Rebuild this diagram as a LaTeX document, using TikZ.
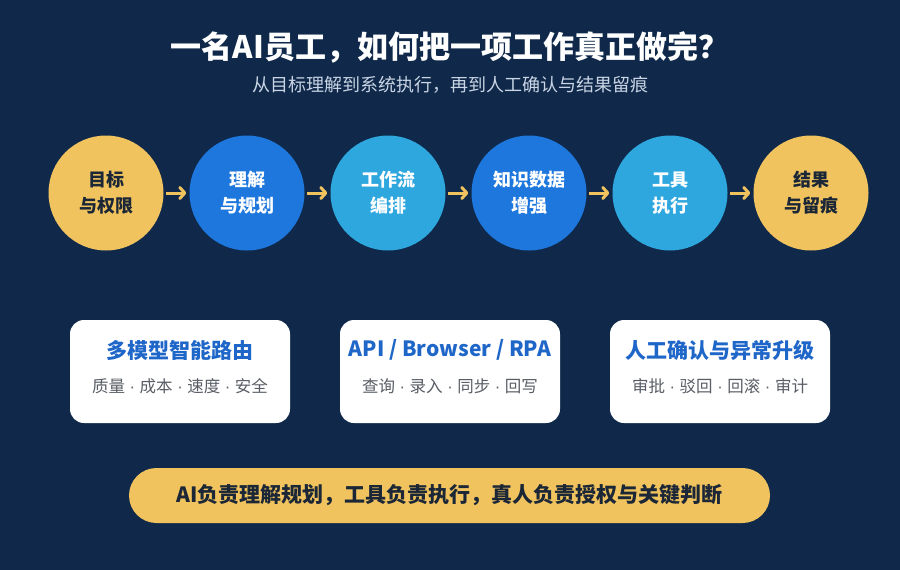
\documentclass[tikz,border=0pt]{standalone}
\usepackage{fontspec}
\setmainfont{Noto Sans CJK SC}
\newfontfamily\latf{Liberation Sans}
\newcommand{\sepdot}{{\latf\ ·\ }}
\usetikzlibrary{arrows.meta}
\definecolor{bgnavy}{HTML}{10294A}
\definecolor{ygold}{HTML}{F0C35E}
\definecolor{cblue}{HTML}{1E77DD}
\definecolor{clight}{HTML}{2EA7DF}
\definecolor{darktxt}{HTML}{1B2737}
\definecolor{subtxt}{HTML}{C9D5E5}
\definecolor{cardtitle}{HTML}{1F66C9}
\definecolor{cardsub}{HTML}{595E66}
\tikzset{
  stage/.style={circle,minimum size=115pt,inner sep=0pt,align=center,
    font=\fontsize{18}{26}\selectfont\bfseries},
  ystage/.style={stage,fill=ygold,text=darktxt},
  bstage/.style={stage,fill=cblue,text=white},
  lstage/.style={stage,fill=clight,text=white},
  flow/.style={draw=ygold,line width=3pt,shorten <=2.5pt,shorten >=3pt,
    -{Straight Barb[length=5pt,width=11pt,line cap=round,line join=round]}},
  card/.style={fill=white,rounded corners=14pt,minimum width=220pt,minimum height=103pt,inner sep=0pt},
  cardhead/.style={text=cardtitle,font=\fontsize{21}{24}\selectfont\bfseries,inner sep=0pt},
  cardsubt/.style={text=cardsub,font=\fontsize{16.5}{20}\selectfont,inner sep=0pt},
}
\begin{document}
\begin{tikzpicture}[x=1pt,y=-1pt]
\fill[bgnavy] (0,0) rectangle (900,570);
\useasboundingbox (0,0) rectangle (900,570);

\node[text=white,font=\fontsize{31}{34}\selectfont\bfseries,inner sep=0pt] (title) at (450,47) {一名AI员工，如何把一项工作真正做完？};
\node[text=subtxt,font=\fontsize{18}{22}\selectfont,inner sep=0pt] (subtitle) at (450,85) {从目标理解到系统执行，再到人工确认与结果留痕};

\node[ystage] (c1) at (106,193) {目标\\与权限};
\node[bstage] (c2) at (247,193) {理解\\与规划};
\node[lstage] (c3) at (388,193) {工作流\\编排};
\node[bstage] (c4) at (529,193) {知识数据\\增强};
\node[lstage] (c5) at (670,193) {工具\\执行};
\node[ystage] (c6) at (811,193) {结果\\与留痕};

\draw[flow] (c1) -- (c2);
\draw[flow] (c2) -- (c3);
\draw[flow] (c3) -- (c4);
\draw[flow] (c4) -- (c5);
\draw[flow] (c5) -- (c6);

\node[card] (k1) at (180,371.5) {};
\node[cardhead] (k1h) at (180,350) {多模型智能路由};
\node[cardsubt] (k1s) at (180,386) {质量\sepdot 成本\sepdot 速度\sepdot 安全};

\node[card] (k2) at (450,371.5) {};
\node[cardhead] (k2h) at (450,350) {API / Browser / RPA};
\node[cardsubt] (k2s) at (450,386) {查询\sepdot 录入\sepdot 同步\sepdot 回写};

\node[card] (k3) at (720,371.5) {};
\node[cardhead] (k3h) at (720,350) {人工确认与异常升级};
\node[cardsubt] (k3s) at (720,386) {审批\sepdot 驳回\sepdot 回滚\sepdot 审计};

\node[fill=ygold,rounded corners=27.5pt,minimum width=641pt,minimum height=55pt,inner sep=0pt,
  text=darktxt,font=\fontsize{21}{24}\selectfont\bfseries] (pill) at (449.5,495.5)
  {AI负责理解规划，工具负责执行，真人负责授权与关键判断};
\end{tikzpicture}
\end{document}
